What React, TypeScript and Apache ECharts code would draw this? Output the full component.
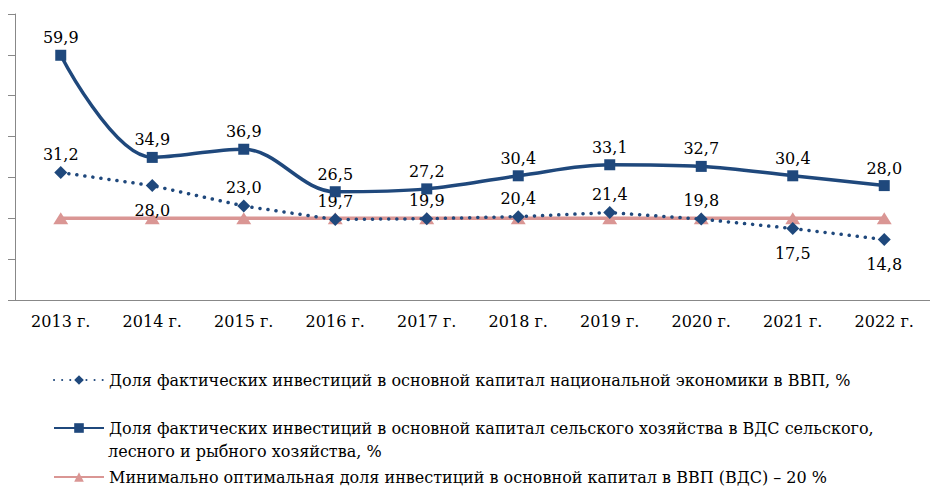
import React, { useEffect, useRef } from "react";
import * as echarts from "echarts";

const categories = ["2013 г.", "2014 г.", "2015 г.", "2016 г.", "2017 г.", "2018 г.", "2019 г.", "2020 г.", "2021 г.", "2022 г."];
const nationalShare = [31.2, 28.0, 23.0, 19.7, 19.9, 20.4, 21.4, 19.8, 17.5, 14.8];
const agriShare = [59.9, 34.9, 36.9, 26.5, 27.2, 30.4, 33.1, 32.7, 30.4, 28.0];
const optimalShare = [20, 20, 20, 20, 20, 20, 20, 20, 20, 20];
const belowLabelIdx = [1, 8, 9];

const nameNational = "Доля фактических инвестиций в основной капитал национальной экономики в ВВП, %";
const nameAgri = "Доля фактических инвестиций в основной капитал сельского хозяйства в ВДС сельского,";
const nameAgri2 = "лесного и рыбного хозяйства, %";
const nameOptimal = "Минимально оптимальная доля инвестиций в основной капитал в ВВП (ВДС) – 20 %";

const BLUE = "#1F487C";
const PINK = "#DA9694";
const FONT = "DejaVu Serif";
const LEGEND_SIZE = 16;

const fmt = (v: number) => v.toFixed(1).replace(".", ",");

export default function App() {
  const ref = useRef<HTMLDivElement>(null);
  useEffect(() => {
    const chart = echarts.init(ref.current!, null, { renderer: "svg" });
    const legendCommon = {
      orient: "vertical" as const,
      left: 53,
      itemWidth: 50,
      itemHeight: 12,
      padding: 0,
      textStyle: { fontFamily: FONT, fontSize: LEGEND_SIZE, color: "#000" },
      selectedMode: false,
    };
    const labelStyle = {
      show: true,
      position: "top",
      distance: 4,
      fontFamily: FONT,
      fontSize: 16,
      color: "#000",
      formatter: (p: any) => fmt(p.value),
    };
    chart.setOption({
      animation: false,
      backgroundColor: "#fff",
      grid: { left: 15, right: -2, top: 14, bottom: 189 },
      xAxis: {
        type: "category",
        data: categories,
        axisLine: { lineStyle: { color: "#888", width: 1 } },
        axisTick: { length: 5, lineStyle: { color: "#888" } },
        axisLabel: { fontFamily: FONT, fontSize: 16, color: "#000", margin: 13 },
      },
      yAxis: {
        type: "value",
        min: 0,
        max: 70,
        interval: 10,
        axisLine: { show: true, lineStyle: { color: "#888", width: 1 } },
        axisTick: { show: true, length: 7, lineStyle: { color: "#888" } },
        axisLabel: { show: false },
        splitLine: { show: false },
      },
      legend: [
        { ...legendCommon, top: 372, data: [nameNational] },
        { ...legendCommon, top: 420, data: [nameAgri] },
        { ...legendCommon, top: 469, data: [nameOptimal] },
      ],
      graphic: [
        {
          type: "text",
          left: 108,
          top: 443,
          style: { text: nameAgri2, fontFamily: FONT, fontSize: LEGEND_SIZE, fill: "#000" },
        },
      ],
      series: [
        {
          name: nameOptimal,
          type: "line",
          data: optimalShare,
          symbol: "triangle",
          symbolSize: [15, 12],
          z: 1,
          lineStyle: { color: PINK, width: 3.5 },
          itemStyle: { color: PINK },
        },
        {
          name: nameNational,
          type: "line",
          data: nationalShare.map((v, i) => ({
            value: v,
            label: belowLabelIdx.includes(i) ? { position: "bottom", distance: 10 } : undefined,
          })),
          symbol: "diamond",
          symbolSize: 13,
          z: 3,
          lineStyle: { color: BLUE, width: 3.5, type: [0.1, 8], cap: "round" },
          itemStyle: { color: BLUE },
          label: labelStyle,
        },
        {
          name: nameAgri,
          type: "line",
          data: agriShare,
          smooth: 0.35,
          symbol: "rect",
          symbolSize: 11,
          z: 4,
          lineStyle: { color: BLUE, width: 3.5 },
          itemStyle: { color: BLUE },
          label: labelStyle,
        },
      ],
    });
    return () => chart.dispose();
  }, []);
  return (
    <div
      ref={ref}
      style={{ position: "absolute", left: 0, top: 0, width: 930, height: 489 }}
    />
  );
}
